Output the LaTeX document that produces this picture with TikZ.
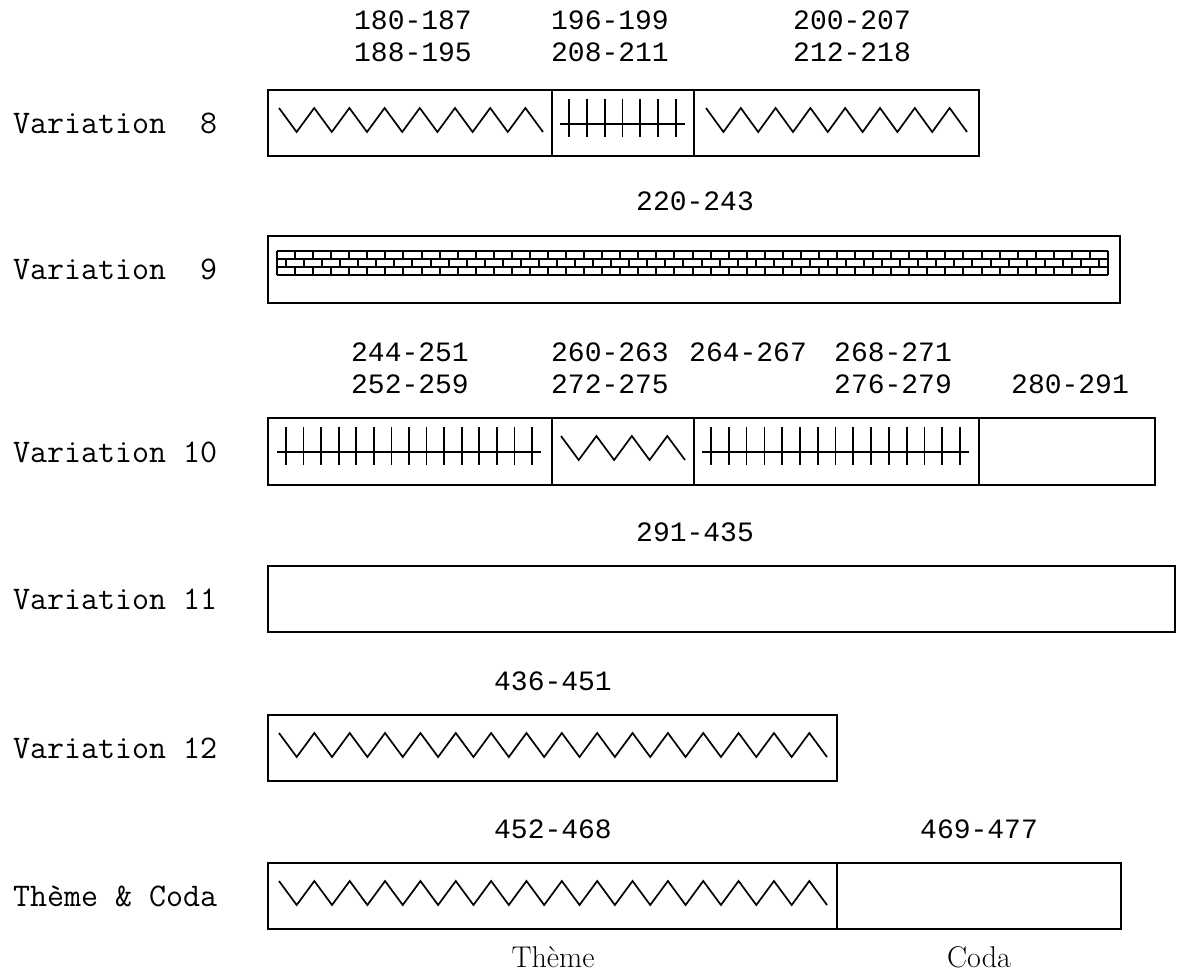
\documentclass[tikz,border=0pt]{standalone}
\usepackage{fontspec}
\newfontfamily\numfont{Liberation Mono}
\newcommand\zz[5]{\draw[patline] (#1,#3) \foreach \i in {1,...,#5}{ -- ({#1+(#2-#1)/#5*\i},{ifthenelse(isodd(\i),#4,#3)}) };}
\newcommand\hatch[4]{%
  \draw[patline] (#1,#3+34) -- (#2,#3+34);
  \foreach \i in {1,...,#4}{\draw[patline] ({#1+9+(#2-#1-18)/(#4-1)*(\i-1)},#3+9) -- ++(0,38);}}
\tikzset{
  boxline/.style={line width=1.6pt, draw=black},
  patline/.style={line width=1.7pt, draw=black, line join=miter},
  brick/.style={line width=2pt, draw=black},
  num/.style={inner sep=0pt, font=\numfont\fontsize{28}{30}\selectfont},
  lbl/.style={inner sep=0pt, anchor=west, font=\ttfamily\fontsize{33}{36}\selectfont},
  capt/.style={inner sep=0pt, anchor=base, font=\fontsize{30}{32}\selectfont},
}
\begin{document}
\begin{tikzpicture}[x=1pt,y=-1pt]
\useasboundingbox[fill=white] (0,0) rectangle (1177,971);
% boxes
\draw[boxline] (268,90) rectangle (979,156);
\draw[boxline] (552,90) -- (552,156) (694,90) -- (694,156);
\draw[boxline] (268,236) rectangle (1120,303);
\draw[boxline] (268,418) rectangle (1155,485);
\draw[boxline] (552,418) -- (552,485) (694,418) -- (694,485) (979,418) -- (979,485);
\draw[boxline] (268,566) rectangle (1175,632);
\draw[boxline] (268,715) rectangle (837,781);
\draw[boxline] (268,863) rectangle (1121,929);
\draw[boxline] (837,863) -- (837,929);
% patterns
\zz{279}{543}{108}{132}{15}
\hatch{560}{685}{90}{7}
\zz{706}{967}{108}{132}{15}
% bricks
\foreach \yy in {251,259,267,275} \draw[brick] (277,\yy) -- (1108,\yy);
\foreach \k in {0,...,46} {\draw[brick] ({277+18.065*\k},251) -- ++(0,8);
                           \draw[brick] ({277+18.065*\k},267) -- ++(0,8);}
\foreach \k in {0,...,45} \draw[brick] ({286+18.065*\k},259) -- ++(0,8);
\draw[brick] (277,259) -- ++(0,8) (1108,259) -- ++(0,8);
\hatch{277}{541}{418}{15}
\zz{561}{685}{436}{460}{7}
\hatch{702}{969}{418}{15}
\zz{279}{827}{733}{757}{31}
\zz{279}{827}{881}{905}{31}
% numbers
\node[num] (n180) at (413,20) {180-187};
\node[num] (n188) at (413,52) {188-195};
\node[num] (n196) at (610,20) {196-199};
\node[num] (n208) at (610,52) {208-211};
\node[num] (n200) at (852,20) {200-207};
\node[num] (n212) at (852,52) {212-218};
\node[num] (n220) at (695,201) {220-243};
\node[num] (n244) at (410,352) {244-251};
\node[num] (n252) at (410,384) {252-259};
\node[num] (n260) at (610,352) {260-263};
\node[num] (n272) at (610,384) {272-275};
\node[num] (n264) at (748,352) {264-267};
\node[num] (n268) at (893,352) {268-271};
\node[num] (n276) at (893,384) {276-279};
\node[num] (n280) at (1070,384) {280-291};
\node[num] (n291) at (695,532) {291-435};
\node[num] (n436) at (553,681) {436-451};
\node[num] (n452) at (553,829) {452-468};
\node[num] (n469) at (979,829) {469-477};
% row labels
\node[lbl] (l8) at (13,123) {Variation~~8};
\node[lbl] (l9) at (13,269) {Variation~~9};
\node[lbl] (l10) at (13,452) {Variation~10};
\node[lbl] (l11) at (13,599) {Variation~11};
\node[lbl] (l12) at (13,748) {Variation~12};
\node[lbl] (ltc) at (13,896) {Thème~\&~Coda};
% captions
\node[capt] (cth) at (553,967) {Thème};
\node[capt] (cco) at (979,967) {Coda};
\end{tikzpicture}
\end{document}
